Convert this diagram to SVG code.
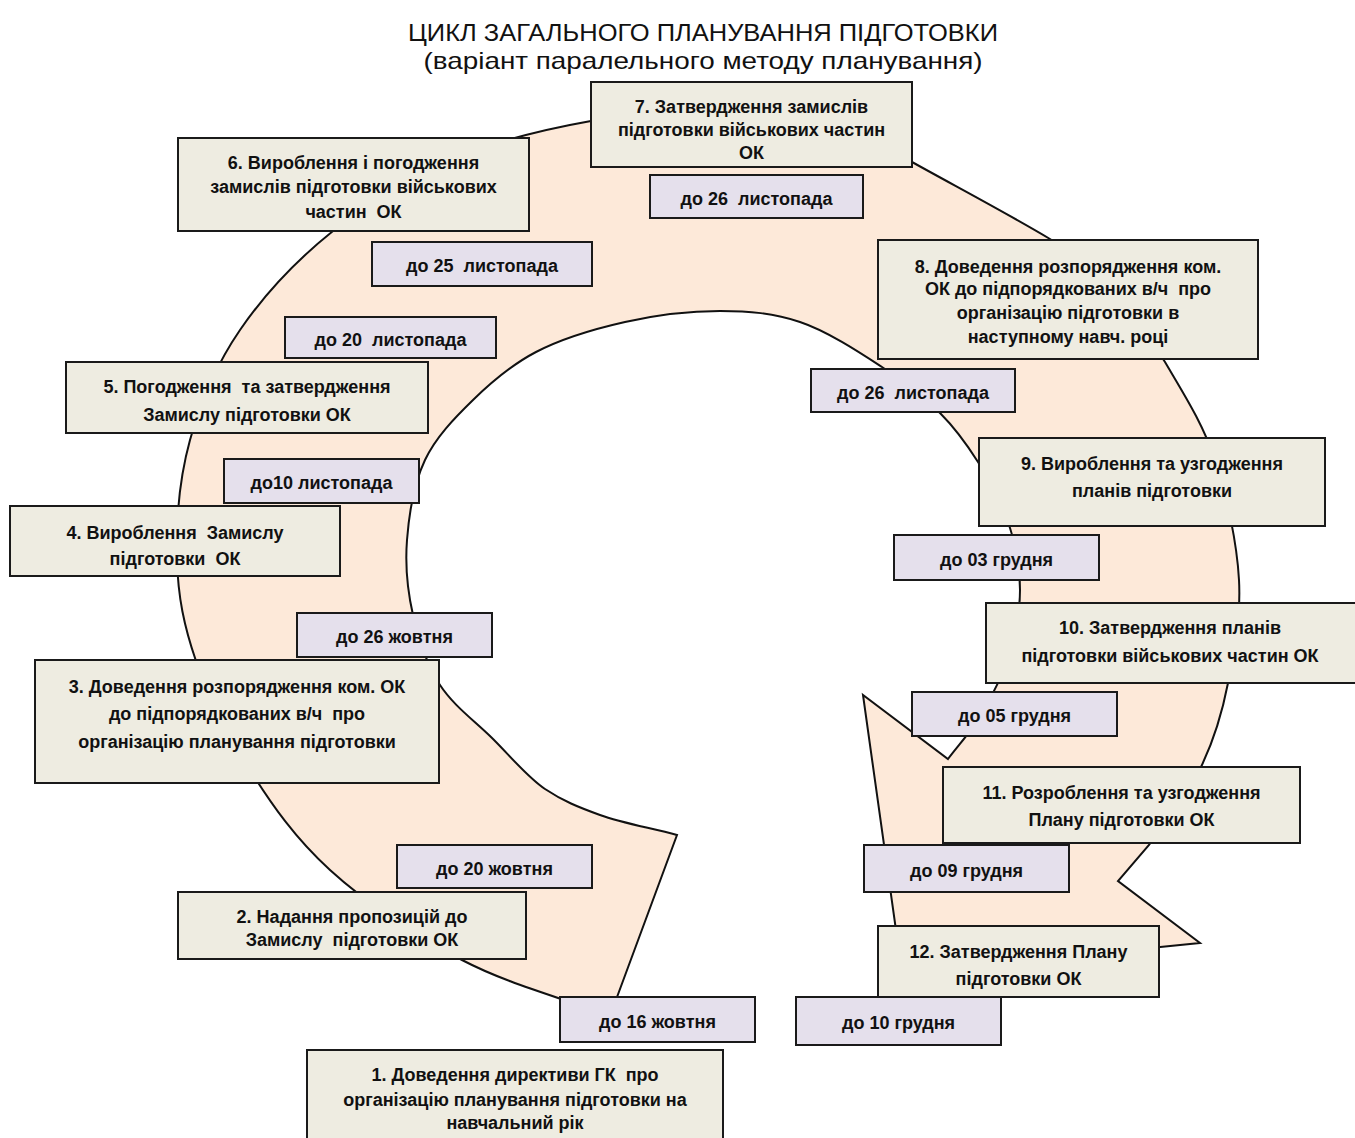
<svg xmlns="http://www.w3.org/2000/svg" width="1355" height="1138" viewBox="0 0 1355 1138">
<style>
.box{fill:#EEECE1;stroke:#1a1a1a;stroke-width:2}
.date{fill:#E5E0EC;stroke:#1a1a1a;stroke-width:2}
.t{font-family:"Liberation Sans",Arial,sans-serif;font-weight:bold;font-size:18px;fill:#111;text-anchor:middle}
.title{font-family:"Liberation Sans",Arial,sans-serif;font-size:24px;fill:#111;text-anchor:middle}
.ring{fill:#FDE9D9;stroke:#111;stroke-width:2;stroke-linejoin:miter}
</style>
<rect width="1355" height="1138" fill="#fff"/>
<text class="title" x="703" y="41" textLength="590" lengthAdjust="spacingAndGlyphs">ЦИКЛ ЗАГАЛЬНОГО ПЛАНУВАННЯ ПІДГОТОВКИ</text>
<text class="title" x="703" y="69" textLength="559" lengthAdjust="spacingAndGlyphs">(варіант паралельного методу планування)</text>
<g id="connectors">
<path class="ring" d="M610,1016 C559,997 508,984 462,960 C416,936 365,902 330,870 C295,838 272,805 250,770 C228,735 208,696 196,661 C184,626 178,597 177,560 C176,523 179.5,478 190,440 C200.5,402 216,365 240,330 C264,295 298,259 333,231 C368,203 407,178 450,160 C493,142 546,129 591,121 C636,113 677,110 720,110 C790,110 860,134.5 912,162 C957,187 1010,215 1050,239 C1090,263 1140,320 1165,362 C1185,396 1203,424 1215,460 C1227,496 1237,543 1239,580 C1241,617 1234,652 1228,683 C1222,714 1214,740 1201,767 C1188,794 1166,819 1149,845 L1118,881 L1200,943 L902,973 L863,695 L948,759 C960,743 974.5,728 982,712 C995.5,692 1004,670 1010,650 C1016,630 1020,610 1020,590 C1020,570 1017,549 1010,528 C1003,507 990,481 978,462 C966,443 956,429 940,413 C924,397 905,382 882,367 C859,352 827,331 800,322 C773,313 749,311 720,311 C691,311 656,315 625,322 C594,329 561,339 536,352 C511,365 491.5,382 473,400 C454.5,418 436,437 425,460 C414,483 409,514 407,540 C405,566 407.5,591 413,615 C418.5,639 427,665 440,685 C453,705 473.5,720 491,737 C508.5,754 527,777 545,789 C563,801 578,807 600,815 C622,823 651,828 677,835 Z"/>
</g>
<g id="n7"><rect class="box" x="591" y="82" width="321" height="85"/>
<text class="t" x="751.5" y="113">7. Затвердження замислів</text>
<text class="t" x="751.5" y="136">підготовки військових частин</text>
<text class="t" x="751.5" y="159">ОК</text></g>
<g id="d7"><rect class="date" x="650" y="175" width="213" height="43"/>
<text class="t" x="756.5" y="205" xml:space="preserve">до 26  листопада</text></g>
<g id="n6"><rect class="box" x="178" y="138" width="351" height="93"/>
<text class="t" x="353.5" y="169">6. Вироблення і погодження</text>
<text class="t" x="353.5" y="193">замислів підготовки військових</text>
<text class="t" x="353.5" y="218" xml:space="preserve">частин  ОК</text></g>
<g id="d6"><rect class="date" x="372" y="242" width="220" height="44"/>
<text class="t" x="482" y="272" xml:space="preserve">до 25  листопада</text></g>
<g id="d5"><rect class="date" x="285" y="317" width="211" height="41"/>
<text class="t" x="390.5" y="346" xml:space="preserve">до 20  листопада</text></g>
<g id="n5"><rect class="box" x="66" y="362" width="362" height="71"/>
<text class="t" x="247" y="393" xml:space="preserve">5. Погодження  та затвердження</text>
<text class="t" x="247" y="421">Замислу підготовки ОК</text></g>
<g id="d4"><rect class="date" x="224" y="459" width="195" height="44"/>
<text class="t" x="321.5" y="489">до10 листопада</text></g>
<g id="n4"><rect class="box" x="10" y="506" width="330" height="70"/>
<text class="t" x="175" y="539" xml:space="preserve">4. Вироблення  Замислу</text>
<text class="t" x="175" y="565" xml:space="preserve">підготовки  ОК</text></g>
<g id="d3"><rect class="date" x="297" y="613" width="195" height="44"/>
<text class="t" x="394.5" y="643">до 26 жовтня</text></g>
<g id="n3"><rect class="box" x="35" y="660" width="404" height="123"/>
<text class="t" x="237" y="693">3. Доведення розпорядження ком. ОК</text>
<text class="t" x="237" y="720" xml:space="preserve">до підпорядкованих в/ч  про</text>
<text class="t" x="237" y="748">організацію планування підготовки</text></g>
<g id="d2"><rect class="date" x="397" y="845" width="195" height="43"/>
<text class="t" x="494.5" y="875">до 20 жовтня</text></g>
<g id="n2"><rect class="box" x="178" y="892" width="348" height="67"/>
<text class="t" x="352" y="923">2. Надання пропозицій до</text>
<text class="t" x="352" y="946" xml:space="preserve">Замислу  підготовки ОК</text></g>
<g id="d1"><rect class="date" x="560" y="997" width="195" height="45"/>
<text class="t" x="657.5" y="1028">до 16 жовтня</text></g>
<g id="n1"><rect class="box" x="307" y="1050" width="416" height="95"/>
<text class="t" x="515" y="1081" xml:space="preserve">1. Доведення директиви ГК  про</text>
<text class="t" x="515" y="1106">організацію планування підготовки на</text>
<text class="t" x="515" y="1129">навчальний рік</text></g>
<g id="n8"><rect class="box" x="878" y="240" width="380" height="119"/>
<text class="t" x="1068" y="273">8. Доведення розпорядження ком.</text>
<text class="t" x="1068" y="295" xml:space="preserve">ОК до підпорядкованих в/ч  про</text>
<text class="t" x="1068" y="319">організацію підготовки в</text>
<text class="t" x="1068" y="343">наступному навч. році</text></g>
<g id="d8"><rect class="date" x="811" y="369" width="204" height="43"/>
<text class="t" x="913" y="399" xml:space="preserve">до 26  листопада</text></g>
<g id="n9"><rect class="box" x="979" y="438" width="346" height="88"/>
<text class="t" x="1152" y="470">9. Вироблення та узгодження</text>
<text class="t" x="1152" y="497">планів підготовки</text></g>
<g id="d9"><rect class="date" x="894" y="535" width="205" height="45"/>
<text class="t" x="996.5" y="566">до 03 грудня</text></g>
<g id="n10"><rect class="box" x="986" y="603" width="372" height="80"/>
<text class="t" x="1170" y="634">10. Затвердження планів</text>
<text class="t" x="1170" y="662">підготовки військових частин ОК</text></g>
<g id="d10"><rect class="date" x="912" y="692" width="205" height="44"/>
<text class="t" x="1014.5" y="722">до 05 грудня</text></g>
<g id="n11"><rect class="box" x="943" y="767" width="357" height="76"/>
<text class="t" x="1121.5" y="799">11. Розроблення та узгодження</text>
<text class="t" x="1121.5" y="826">Плану підготовки ОК</text></g>
<g id="d11"><rect class="date" x="864" y="845" width="205" height="47"/>
<text class="t" x="966.5" y="877">до 09 грудня</text></g>
<g id="n12"><rect class="box" x="878" y="926" width="281" height="71"/>
<text class="t" x="1018.5" y="958">12. Затвердження Плану</text>
<text class="t" x="1018.5" y="985">підготовки ОК</text></g>
<g id="d12"><rect class="date" x="796" y="997" width="205" height="48"/>
<text class="t" x="898.5" y="1029">до 10 грудня</text></g>
</svg>
